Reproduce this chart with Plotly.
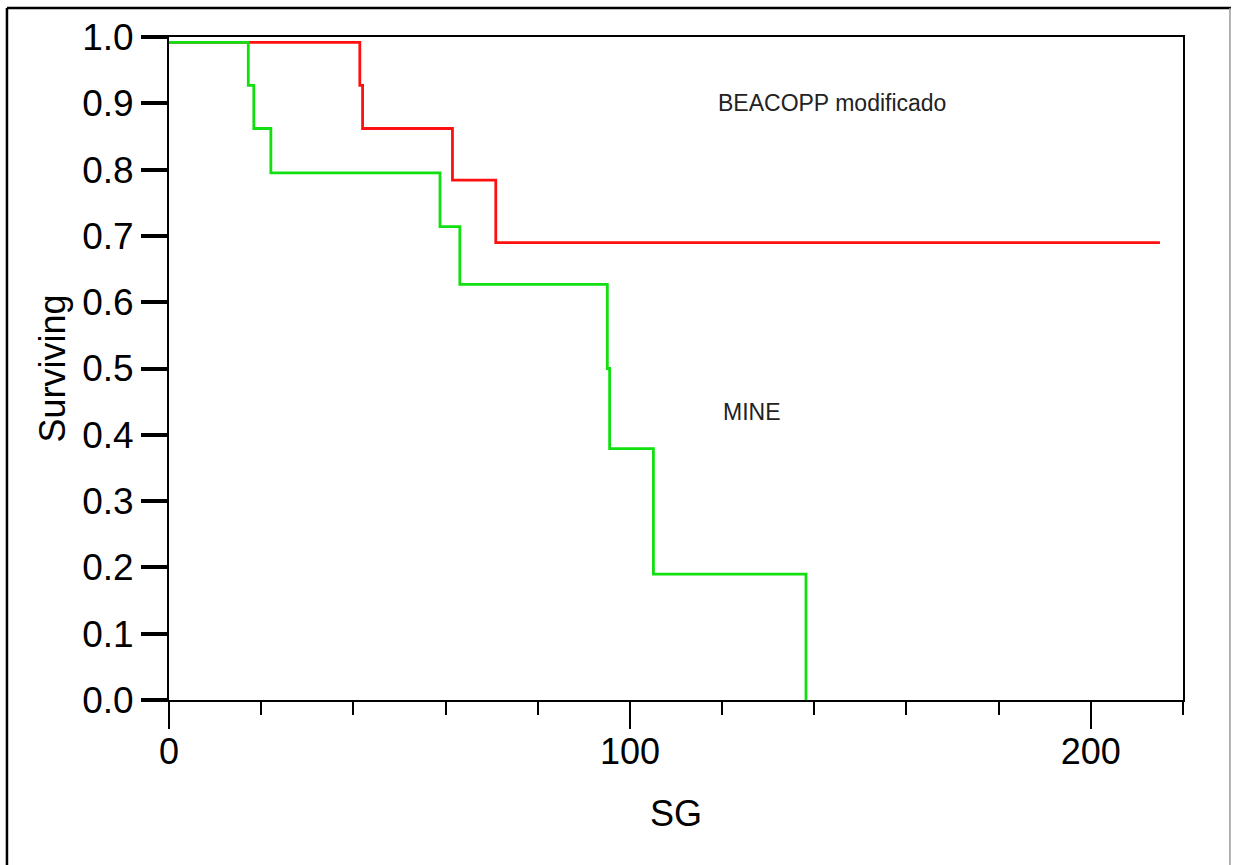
import plotly.graph_objects as go

# Kaplan-Meier style step data
mine_time = [0, 17.2, 18.4, 22.1, 58.8, 63.1, 95.1, 95.6, 105.1, 138.2]
mine_surv = [0.992, 0.927, 0.862, 0.795, 0.714, 0.627, 0.500, 0.379, 0.190, 0.0]

beacopp_time = [0, 41.4, 42.0, 61.5, 70.9, 215.0]
beacopp_surv = [0.992, 0.927, 0.862, 0.784, 0.690, 0.690]

FONT = "Arial, Liberation Sans, sans-serif"

fig = go.Figure()
fig.add_trace(go.Scatter(x=beacopp_time, y=beacopp_surv, mode="lines",
                         line=dict(color="#FF1010", width=2.8, shape="hv"),
                         name="BEACOPP modificado", showlegend=False))
fig.add_trace(go.Scatter(x=mine_time, y=mine_surv, mode="lines",
                         line=dict(color="#10E010", width=2.8, shape="hv"),
                         name="MINE", showlegend=False))

fig.add_annotation(x=143.9, y=0.9, text="BEACOPP modificado", showarrow=False,
                   font=dict(family=FONT, size=23, color="#222222"))
fig.add_annotation(x=126.5, y=0.434, text="MINE", showarrow=False,
                   font=dict(family=FONT, size=23, color="#222222"))

# outer frame of the picture
fig.add_shape(type="line", xref="paper", yref="paper", x0=-0.1598, x1=1.0473, y0=1.0437, y1=1.0437,
              line=dict(color="black", width=2.5))
fig.add_shape(type="line", xref="paper", yref="paper", x0=-0.1598, x1=-0.1598, y0=1.0437, y1=-0.3,
              line=dict(color="black", width=2.5))
fig.add_shape(type="line", xref="paper", yref="paper", x0=1.0463, x1=1.0463, y0=1.0437, y1=-0.3,
              line=dict(color="#999999", width=1.5))

fig.update_layout(
    width=1233, height=865,
    margin=dict(l=169, r=50, t=37, b=165),
    paper_bgcolor="white", plot_bgcolor="white",
    font=dict(family=FONT, color="black"),
    xaxis=dict(range=[0, 220], dtick=100, tick0=0, ticks="outside", ticklen=27, tickwidth=2,
               tickcolor="black", showline=True, linecolor="black", linewidth=2, mirror=True,
               showgrid=False, zeroline=False, tickfont=dict(size=36), ticklabelstandoff=-8,
               minor=dict(dtick=20, tick0=0, ticks="outside", ticklen=13, tickwidth=2, tickcolor="black",
                          showgrid=False),
               title=dict(text="SG", font=dict(size=36), standoff=30)),
    yaxis=dict(range=[0, 1.0], dtick=0.1, tick0=0, tickformat=".1f", ticks="outside", ticklen=26,
               tickwidth=3.5, tickcolor="black", showline=True, linecolor="black", linewidth=2,
               mirror=True, showgrid=False, zeroline=False, tickfont=dict(size=37),
               title=dict(text="Surviving", font=dict(size=36), standoff=6)),
)

fig.write_html("out.html")
